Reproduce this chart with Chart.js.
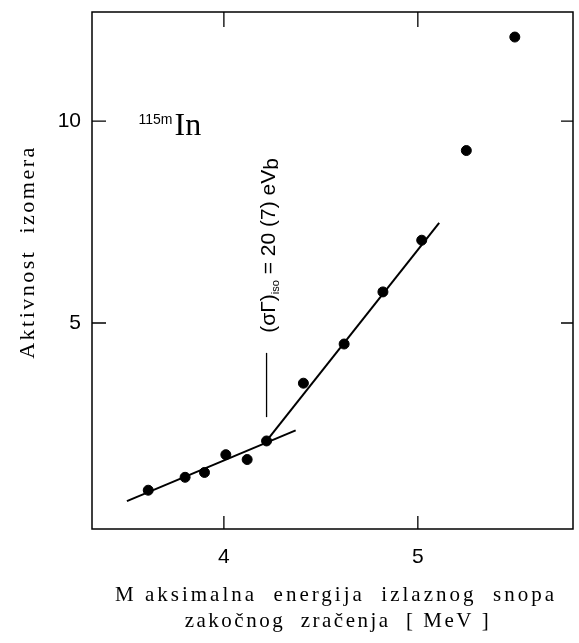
<!DOCTYPE html>
<html>
<head>
<meta charset="utf-8">
<script src="https://cdn.jsdelivr.net/npm/chart.js@4.4.1/dist/chart.umd.min.js"></script>
<style>
  html, body { margin: 0; padding: 0; background: #fff; }
  #wrap { width: 579px; height: 643px; }
</style>
</head>
<body>
<div id="wrap"><canvas id="activityChart"></canvas></div>
<script>
// measured points: max. bremsstrahlung energy [MeV] vs isomer activity
const energy = [3.61, 3.80, 3.90, 4.01, 4.12, 4.22, 4.41, 4.62, 4.82, 5.02, 5.25, 5.50];
const activity = [0.86, 1.18, 1.30, 1.74, 1.62, 2.08, 3.51, 4.48, 5.77, 7.05, 9.27, 12.08];

// two straight fits
const lowFitX = [3.50, 4.37];
const lowFitY = [0.59, 2.34];
const highFitX = [4.22, 5.11];
const highFitY = [2.08, 7.48];

// short vertical marker at the threshold
const markerX = [4.22, 4.22];
const markerY = [2.67, 4.26];

const xTicks = [4, 5];
const yTicks = [5, 10];

const SANS = '"Liberation Sans", Arial, sans-serif';
const SERIF = '"Liberation Serif", "Times New Roman", serif';

function toXY(xs, ys) {
    return xs.map((x, i) => ({ x: x, y: ys[i] }));
}

const framePlugin = {
    id: 'framePlugin',
    afterDraw(chart) {
        const ctx = chart.ctx;
        const a = chart.chartArea;
        const xs = chart.scales.x;
        const ys = chart.scales.y;
        ctx.save();
        ctx.strokeStyle = '#000';
        ctx.lineWidth = 1.5;
        ctx.strokeRect(a.left, a.top, a.right - a.left, a.bottom - a.top);

        // inward ticks on all four sides
        ctx.lineWidth = 1.3;
        ctx.beginPath();
        xTicks.forEach(v => {
            const px = xs.getPixelForValue(v);
            ctx.moveTo(px, a.bottom); ctx.lineTo(px, a.bottom - 13);
            ctx.moveTo(px, a.top); ctx.lineTo(px, a.top + 15);
        });
        yTicks.forEach(v => {
            const py = ys.getPixelForValue(v);
            ctx.moveTo(a.left, py); ctx.lineTo(a.left + 14, py);
            ctx.moveTo(a.right, py); ctx.lineTo(a.right - 12, py);
        });
        ctx.stroke();

        ctx.fillStyle = '#000';

        // isotope label
        let px = xs.getPixelForValue(3.56);
        ctx.font = '14px ' + SANS;
        ctx.textBaseline = 'alphabetic';
        ctx.textAlign = 'left';
        ctx.fillText('115m', px, ys.getPixelForValue(9.92));
        px += ctx.measureText('115m').width + 2;
        ctx.font = '32px ' + SERIF;
        ctx.fillText('In', px, ys.getPixelForValue(9.66));

        // rotated annotation (σΓ)iso = 20 (7) eVb
        ctx.save();
        ctx.translate(xs.getPixelForValue(4.263), ys.getPixelForValue(4.76));
        ctx.rotate(-Math.PI / 2);
        let tx = 0;
        ctx.font = '21px ' + SANS;
        ctx.fillText('(σΓ)', tx, 0);
        tx += ctx.measureText('(σΓ)').width;
        ctx.font = '11px ' + SANS;
        ctx.fillText('iso', tx, 4);
        tx += ctx.measureText('iso').width;
        ctx.font = '21px ' + SANS;
        ctx.fillText(' = 20 (7) eV', tx, 0);
        tx += ctx.measureText(' = 20 (7) eV').width;
        ctx.fillText('b', tx, 3);
        ctx.restore();

        // axis titles
        ctx.save();
        ctx.letterSpacing = '2.5px';
        ctx.font = '22px ' + SERIF;
        ctx.textAlign = 'center';
        ctx.translate(34, 252);
        ctx.rotate(-Math.PI / 2);
        ctx.fillText('Aktivnost  izomera', 0, 0);
        ctx.restore();

        ctx.save();
        ctx.letterSpacing = '3px';
        ctx.font = '21px ' + SERIF;
        ctx.textAlign = 'center';
        ctx.fillText('M aksimalna  energija  izlaznog  snopa', 336, 601);
        ctx.letterSpacing = '2.5px';
        ctx.fillText('zakočnog  zračenja  [ MeV ]', 338, 627);
        ctx.restore();

        ctx.restore();
    }
};

const lineStyle = {
    type: 'line',
    showLine: true,
    borderColor: '#000',
    borderWidth: 2,
    pointRadius: 0,
    fill: false
};

new Chart(document.getElementById('activityChart'), {
    type: 'scatter',
    data: {
        datasets: [
            {
                label: 'measured',
                data: toXY(energy, activity),
                backgroundColor: '#000',
                borderColor: '#000',
                pointRadius: 5,
                pointHoverRadius: 5
            },
            Object.assign({ label: 'fit low', data: toXY(lowFitX, lowFitY) }, lineStyle),
            Object.assign({ label: 'fit high', data: toXY(highFitX, highFitY) }, lineStyle),
            Object.assign({ label: 'marker', data: toXY(markerX, markerY) }, lineStyle, { borderWidth: 1.3 })
        ]
    },
    options: {
        responsive: true,
        maintainAspectRatio: false,
        animation: false,
        layout: { padding: { top: 12, right: 1, left: 0, bottom: 0 } },
        plugins: {
            legend: { display: false },
            tooltip: { enabled: false }
        },
        scales: {
            x: {
                type: 'linear',
                min: 3.32,
                max: 5.80,
                afterBuildTicks: s => { s.ticks = xTicks.map(v => ({ value: v })); },
                afterFit: s => { s.height = 114; s.paddingLeft = 0; s.paddingRight = 0; },
                grid: { display: false, drawTicks: false },
                border: { display: false },
                ticks: {
                    color: '#000',
                    font: { family: SANS, size: 21 },
                    padding: 16
                }
            },
            y: {
                type: 'linear',
                min: -0.1,
                max: 12.7,
                afterBuildTicks: s => { s.ticks = yTicks.map(v => ({ value: v })); },
                afterFit: s => { s.width = 92; s.paddingTop = 0; s.paddingBottom = 0; },
                grid: { display: false, drawTicks: false },
                border: { display: false },
                ticks: {
                    color: '#000',
                    font: { family: SANS, size: 21 },
                    padding: 11
                }
            }
        }
    },
    plugins: [framePlugin]
});
</script>
</body>
</html>
